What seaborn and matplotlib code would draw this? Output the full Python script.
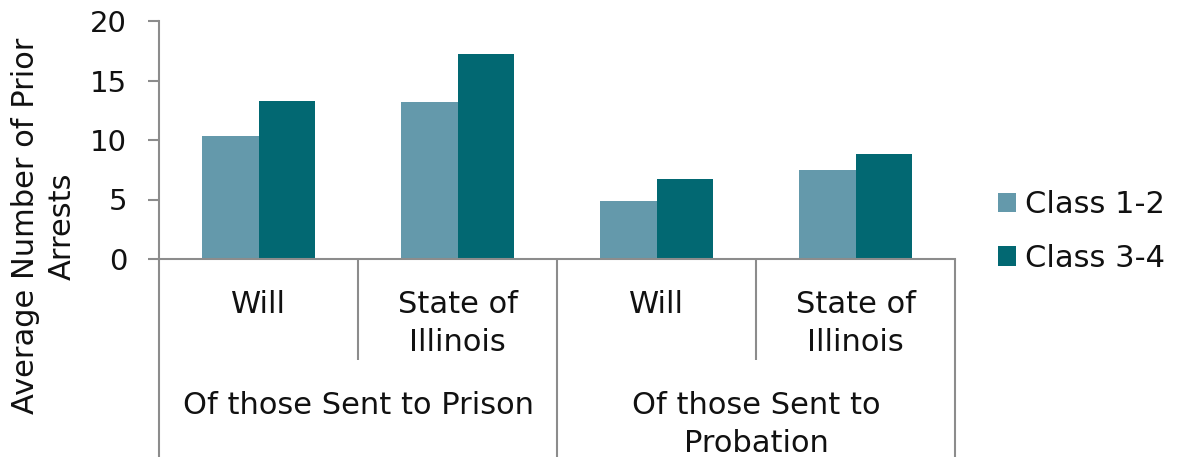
import matplotlib
matplotlib.use("Agg")
import matplotlib.pyplot as plt
import seaborn as sns
import pandas as pd
import matplotlib.transforms as mtransforms

# ---- data ----
groups = ["Of those Sent to Prison", "Of those Sent to Prison",
          "Of those Sent to\nProbation", "Of those Sent to\nProbation"]
places = ["Will", "State of\nIllinois", "Will", "State of\nIllinois"]
class_12 = [10.3, 13.2, 4.9, 7.5]
class_34 = [13.3, 17.2, 6.7, 8.8]
series_names = ["Class 1-2", "Class 3-4"]
yticks = [0, 5, 10, 15, 20]
ylabel = "Average Number of Prior\nArrests"

colors = ["#6499AB", "#026872"]
grey = "#8C8C8C"
txt = "#111111"
FS = 22

keys = [f"{g}|{p}" for g, p in zip(groups, places)]
df = pd.DataFrame({
    "key": keys * 2,
    "value": class_12 + class_34,
    "series": [series_names[0]] * 4 + [series_names[1]] * 4,
})

sns.set_theme(style="white")
plt.rcParams["font.family"] = ["DejaVu Sans"]

fig = plt.figure(figsize=(11.8, 4.57), dpi=100)
ax = fig.add_axes([159 / 1180, 1 - 259 / 457, 796 / 1180, 238 / 457])

sns.barplot(data=df, x="key", y="value", hue="series", order=keys,
            hue_order=series_names, palette=colors, width=0.57,
            saturation=1, linewidth=0, ax=ax, legend=True)

ax.set_xlim(-0.5, 3.5)
ax.set_ylim(0, 20)
ax.set_yticks(yticks)
ax.set_yticklabels([str(t) for t in yticks], fontsize=FS - 1, color=txt)
ax.set_xticks([])
ax.set_xlabel("")
ax.set_ylabel("")
ax.tick_params(axis="y", which="major", direction="out", length=8,
               width=1.5, color=grey, pad=15, left=True)

for s in ["top", "right"]:
    ax.spines[s].set_visible(False)
for s in ["left", "bottom"]:
    ax.spines[s].set_color(grey)
    ax.spines[s].set_linewidth(1.5)

trans = mtransforms.blended_transform_factory(ax.transData, ax.transAxes)
bottom = -(457 - 259) / 238
mid = -(360 - 259) / 238
# full height separators
for xb in [-0.5, 1.5, 3.5]:
    ax.plot([xb, xb], [0, bottom], transform=trans, color=grey, lw=1.5,
            clip_on=False, solid_capstyle="butt")
# inner separators
for xb in [0.5, 2.5]:
    ax.plot([xb, xb], [0, mid], transform=trans, color=grey, lw=1.5,
            clip_on=False, solid_capstyle="butt")

# sub-category labels
for i, p in enumerate(places):
    ax.text(i, -(290 - 259) / 238, p, transform=trans, ha="center",
            va="top", fontsize=FS, color=txt, linespacing=1.37,
            multialignment="center")
# group labels
seen = []
for i, g in enumerate(groups):
    if g in seen:
        continue
    seen.append(g)
    idx = [j for j, gg in enumerate(groups) if gg == g]
    xc = sum(idx) / len(idx)
    ax.text(xc, -(391 - 259) / 238, g, transform=trans, ha="center",
            va="top", fontsize=FS, color=txt, linespacing=1.37,
            multialignment="center")

fig.text(44 / 1180, 1 - 226 / 457, ylabel, rotation=90, ha="center",
         va="center", fontsize=FS, color=txt, multialignment="center",
         linespacing=1.37)

leg = ax.legend(loc="center left", bbox_to_anchor=(998 / 1180, 1 - 231.5 / 457),
                bbox_transform=fig.transFigure, frameon=False, fontsize=FS,
                handlelength=0.59, handleheight=0.59, handletextpad=0.3,
                labelspacing=0.8, borderpad=0, borderaxespad=0)
for t in leg.get_texts():
    t.set_color(txt)

fig.savefig("out.png", dpi=100)
